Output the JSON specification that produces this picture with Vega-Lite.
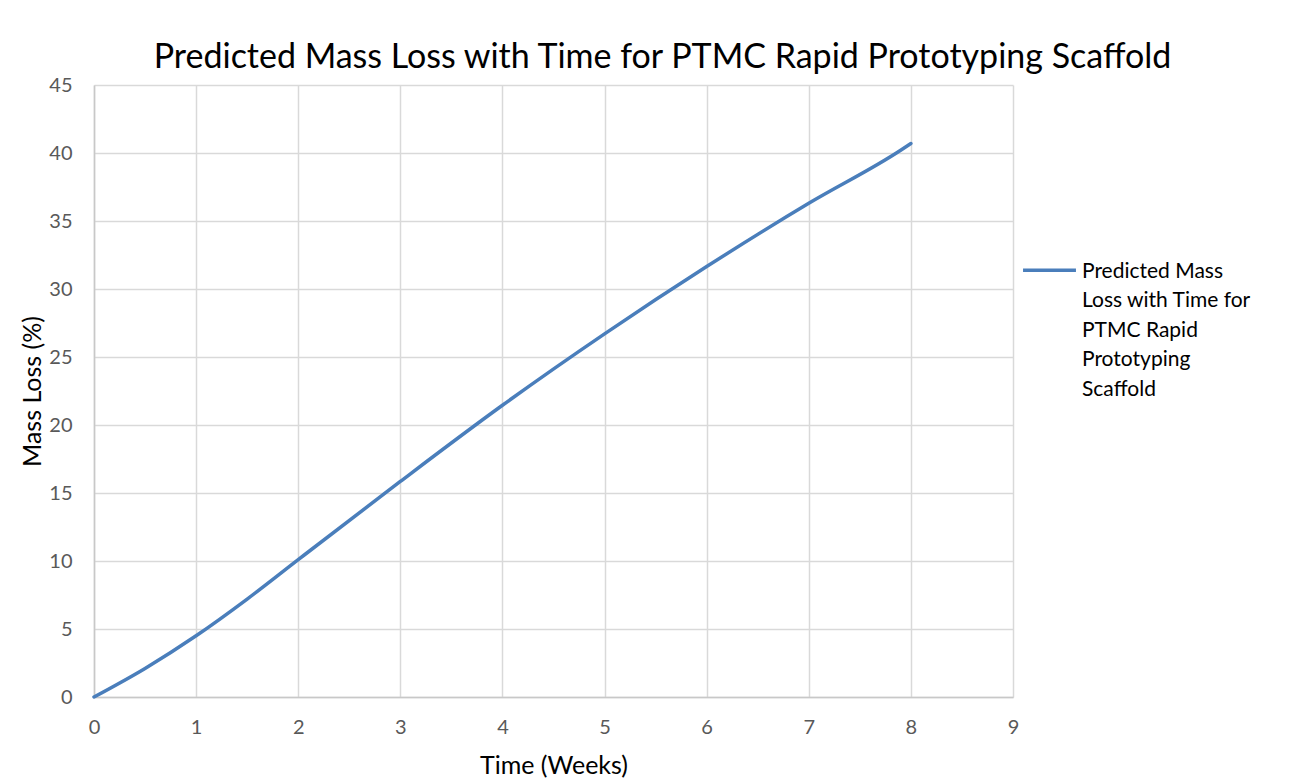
{
  "$schema": "https://vega.github.io/schema/vega-lite/v6.json",
  "autosize": "none",
  "width": 919,
  "height": 612,
  "padding": {"left": 94, "top": 85, "right": 293, "bottom": 81},
  "background": "white",
  "config": {
    "font": "Lato",
    "view": {"stroke": null},
    "style": {"guide-label": {"lineHeight": 29.5}}
  },
  "title": {
    "text": "Predicted Mass Loss with Time for PTMC Rapid Prototyping Scaffold",
    "font": "Lato",
    "fontSize": 34,
    "fontWeight": "normal",
    "color": "#000000",
    "anchor": "middle",
    "dx": 109,
    "dy": 44,
    "baseline": "bottom",
    "offset": 10
  },
  "data": {
    "values": [
      {"week": 0, "loss": 0, "series": "Predicted Mass Loss with Time for PTMC Rapid Prototyping Scaffold"},
      {"week": 0.5, "loss": 2.1, "series": "Predicted Mass Loss with Time for PTMC Rapid Prototyping Scaffold"},
      {"week": 1, "loss": 4.5, "series": "Predicted Mass Loss with Time for PTMC Rapid Prototyping Scaffold"},
      {"week": 1.5, "loss": 7.2, "series": "Predicted Mass Loss with Time for PTMC Rapid Prototyping Scaffold"},
      {"week": 2, "loss": 10.1, "series": "Predicted Mass Loss with Time for PTMC Rapid Prototyping Scaffold"},
      {"week": 3, "loss": 15.85, "series": "Predicted Mass Loss with Time for PTMC Rapid Prototyping Scaffold"},
      {"week": 4, "loss": 21.45, "series": "Predicted Mass Loss with Time for PTMC Rapid Prototyping Scaffold"},
      {"week": 5, "loss": 26.7, "series": "Predicted Mass Loss with Time for PTMC Rapid Prototyping Scaffold"},
      {"week": 6, "loss": 31.65, "series": "Predicted Mass Loss with Time for PTMC Rapid Prototyping Scaffold"},
      {"week": 7, "loss": 36.3, "series": "Predicted Mass Loss with Time for PTMC Rapid Prototyping Scaffold"},
      {"week": 7.9, "loss": 40.2, "series": "Predicted Mass Loss with Time for PTMC Rapid Prototyping Scaffold"},
      {"week": 8, "loss": 40.7, "series": "Predicted Mass Loss with Time for PTMC Rapid Prototyping Scaffold"}
    ]
  },
  "mark": {"type": "line", "interpolate": "monotone", "strokeWidth": 3.5, "strokeCap": "round"},
  "encoding": {
    "x": {
      "field": "week", "type": "quantitative",
      "scale": {"domain": [0, 9], "nice": false},
      "axis": {
        "title": "Time (Weeks)", "values": [0,1,2,3,4,5,6,7,8,9], "format": "d",
        "grid": true, "gridColor": "#d9d9d9", "gridWidth": 1.5,
        "domainColor": "#c8c8c8", "domainWidth": 1.5, "ticks": false,
        "labelFlush": false, "labelOverlap": false,
        "labelFontSize": 20, "labelColor": "#595959", "labelPadding": 20, "labelFont": "Lato",
        "titleFontSize": 25, "titleFontWeight": "normal", "titleColor": "#000000", "titlePadding": 16, "titleFont": "Lato"
      }
    },
    "y": {
      "field": "loss", "type": "quantitative",
      "scale": {"domain": [0, 45], "nice": false},
      "axis": {
        "title": "Mass Loss (%)", "values": [0,5,10,15,20,25,30,35,40,45],
        "grid": true, "gridColor": "#d9d9d9", "gridWidth": 1.5,
        "domainColor": "#c8c8c8", "domainWidth": 1.5, "ticks": false,
        "labelFlush": false, "labelOverlap": false,
        "labelFontSize": 20, "labelColor": "#595959", "labelPadding": 22, "labelFont": "Lato",
        "titleFontSize": 25, "titleFontWeight": "normal", "titleColor": "#000000", "titlePadding": 3, "titleFont": "Lato"
      }
    },
    "color": {
      "field": "series", "type": "nominal",
      "scale": {"range": ["#4a7ebb"]},
      "legend": {
        "title": null,
        "orient": "none",
        "legendX": 927,
        "legendY": 164,
        "symbolType": "M-1,-0.27L1,-0.27",
        "symbolSize": 2800,
        "symbolStrokeWidth": 3.5,
        "symbolFillColor": "transparent",
        "labelFontSize": 21,
        "labelFont": "Lato",
        "labelColor": "#000000",
        "labelBaseline": "alphabetic",
        "labelOffset": 4,
        "labelLimit": 300,
        "labelExpr": "['Predicted Mass', 'Loss with Time for', 'PTMC Rapid', 'Prototyping', 'Scaffold']"
      }
    }
  }
}
